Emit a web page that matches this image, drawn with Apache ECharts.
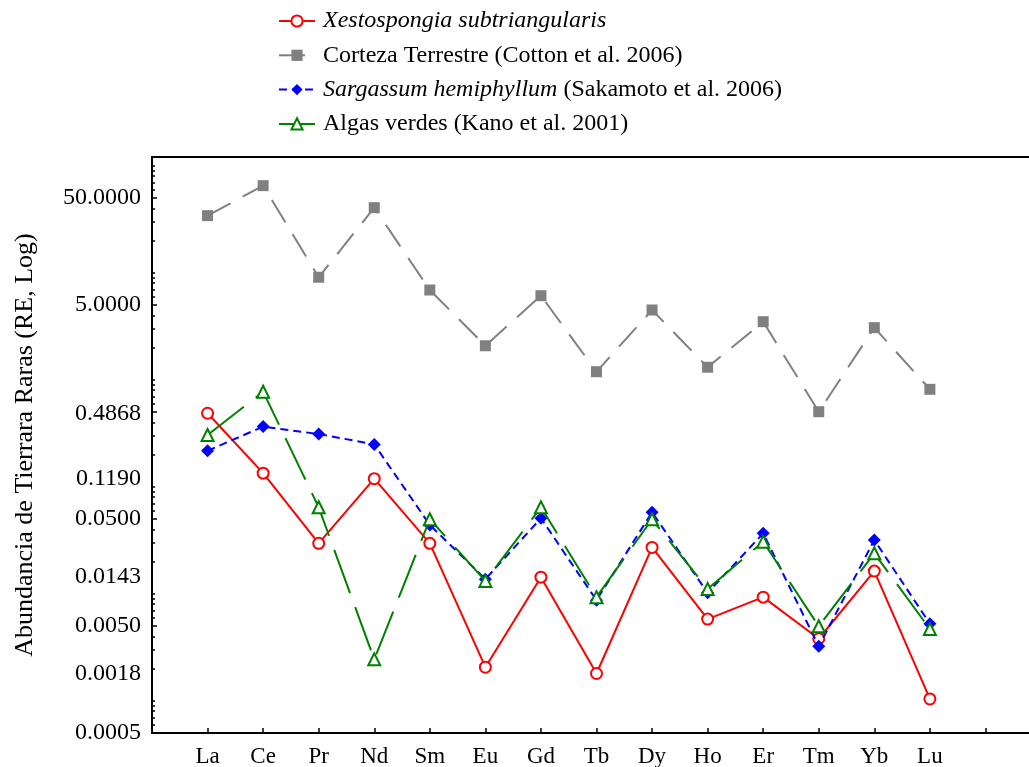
<!DOCTYPE html>
<html>
<head>
<meta charset="utf-8">
<title>Abundancia de Tierras Raras</title>
<script src="https://cdn.jsdelivr.net/npm/echarts@6/dist/echarts.min.js"></script>
<style>
  html, body { margin: 0; padding: 0; background: #ffffff; }
  #chart { width: 1029px; height: 767px; }
</style>
</head>
<body>
<div id="chart"></div>
<script>
// Rare earth elements along the x axis
const categories = ['La', 'Ce', 'Pr', 'Nd', 'Sm', 'Eu', 'Gd', 'Tb', 'Dy', 'Ho', 'Er', 'Tm', 'Yb', 'Lu'];

// Abundance values per element
const xestospongia = [0.4868, 0.134, 0.0296, 0.119, 0.0296, 0.00206, 0.0143, 0.0018, 0.0271, 0.0058, 0.0093, 0.0038, 0.0163, 0.00104];
const corteza = [34.2, 65.2, 9.08, 40.6, 6.90, 2.08, 6.11, 1.19, 4.49, 1.31, 3.49, 0.503, 3.07, 0.815];
const sargassum = [0.217, 0.365, 0.311, 0.249, 0.044, 0.0137, 0.0508, 0.0087, 0.0578, 0.0102, 0.0367, 0.00323, 0.0318, 0.00525];
const algas = [0.305, 0.774, 0.0643, 0.00244, 0.0497, 0.0132, 0.0643, 0.0093, 0.0497, 0.0111, 0.0307, 0.00497, 0.0239, 0.00469];

// Labelled values on the logarithmic y axis
const yTickLabels = ['0.0005', '0.0018', '0.0050', '0.0143', '0.0500', '0.1190', '0.4868', '5.0000', '50.0000'];

const Y_MIN = 0.0005;
const Y_MAX = 120.8;

// The y axis works in log10 units
const lg = v => Math.log10(v);
const toPoints = arr => arr.map((v, i) => [i + 1, lg(v)]);

const labelLogs = yTickLabels.map(s => lg(parseFloat(s)));

// Log ticks: long ones at 5·10^e, short ones at the other k·10^e
const majorLogs = [];
const minorLogs = [];
for (let e = -4; e <= 2; e++) {
  for (let k = 1; k <= 9; k++) {
    const v = k * Math.pow(10, e);
    if (v < Y_MIN * 0.999 || v > Y_MAX) continue;
    (k === 5 ? majorLogs : minorLogs).push(lg(v));
  }
}

const FONT = 'Liberation Serif';

const chart = echarts.init(document.getElementById('chart'), null, { renderer: 'canvas' });

const option = {
  backgroundColor: '#ffffff',
  animation: false,
  grid: {
    left: 152,
    top: 157,
    bottom: 34,
    width: 889,
    outerBoundsMode: 'none',
    show: true,
    borderColor: '#000000',
    borderWidth: 2,
    backgroundColor: 'transparent'
  },
  legend: {
    orient: 'vertical',
    left: 278,
    top: 9,
    padding: 0,
    itemWidth: 36,
    itemHeight: 14,
    itemGap: 10.3,
    data: ['xesto', 'corteza', 'sargassum', 'algas'],
    formatter: function (name) {
      switch (name) {
        case 'xesto': return '{i|Xestospongia subtriangularis}';
        case 'corteza': return '{n|Corteza Terrestre (Cotton et al. 2006)}';
        case 'sargassum': return '{i|Sargassum hemiphyllum} {n|(Sakamoto et al. 2006)}';
        default: return '{n|Algas verdes (Kano et al. 2001)}';
      }
    },
    textStyle: {
      fontFamily: FONT,
      fontSize: 24,
      color: '#000000',
      padding: [0, 0, 0, 3],
      rich: {
        i: { fontFamily: FONT, fontSize: 24, fontStyle: 'italic', color: '#000000' },
        n: { fontFamily: FONT, fontSize: 24, color: '#000000' }
      }
    }
  },
  xAxis: {
    type: 'value',
    min: 0,
    max: 16,
    interval: 1,
    axisLine: { show: true, onZero: false, lineStyle: { color: '#000000', width: 2 } },
    axisTick: { show: true, inside: true, length: 5, lineStyle: { color: '#000000', width: 1.5 } },
    splitLine: { show: false },
    axisLabel: {
      margin: 12,
      fontFamily: FONT,
      fontSize: 23,
      color: '#000000',
      showMinLabel: true,
      showMaxLabel: true,
      formatter: function (v) {
        const i = Math.round(v) - 1;
        return (i >= 0 && i < categories.length) ? categories[i] : '';
      }
    }
  },
  yAxis: [
    {
      type: 'value',
      position: 'left',
      min: lg(Y_MIN),
      max: lg(Y_MAX),
      name: 'Abundancia de Tierrara Raras (RE, Log)',
      nameLocation: 'middle',
      nameGap: 114,
      nameTextStyle: { fontFamily: FONT, fontSize: 26, color: '#000000' },
      axisLine: { show: true, onZero: false, lineStyle: { color: '#000000', width: 2 } },
      axisTick: {
        show: true,
        inside: true,
        length: 5,
        customValues: majorLogs,
        lineStyle: { color: '#000000', width: 1.5 }
      },
      splitLine: { show: false },
      axisLabel: {
        margin: 11,
        fontFamily: FONT,
        fontSize: 24,
        color: '#000000',
        customValues: labelLogs,
        formatter: function (v) {
          for (let i = 0; i < labelLogs.length; i++) {
            if (Math.abs(labelLogs[i] - v) < 1e-6) return yTickLabels[i];
          }
          return '';
        }
      }
    },
    {
      type: 'value',
      position: 'left',
      offset: 0,
      min: lg(Y_MIN),
      max: lg(Y_MAX),
      axisLine: { show: false, onZero: false },
      axisLabel: { show: false },
      splitLine: { show: false },
      axisTick: {
        show: true,
        inside: true,
        length: 3,
        customValues: minorLogs,
        lineStyle: { color: '#000000', width: 1.5 }
      }
    }
  ],
  series: [
    {
      name: 'xesto',
      type: 'line',
      data: toPoints(xestospongia),
      symbol: 'emptyCircle',
      symbolSize: 11,
      itemStyle: { color: '#ff0000', borderWidth: 1.2 },
      lineStyle: { color: '#ff0000', width: 2, type: 'solid' },
      z: 2
    },
    {
      name: 'corteza',
      type: 'line',
      data: toPoints(corteza),
      symbol: 'rect',
      symbolSize: 11,
      itemStyle: { color: '#808080' },
      lineStyle: { color: '#808080', width: 2, type: [26, 14] },
      z: 3
    },
    {
      name: 'sargassum',
      type: 'line',
      data: toPoints(sargassum),
      symbol: 'diamond',
      symbolSize: 13,
      itemStyle: { color: '#0000ff' },
      lineStyle: { color: '#0000ff', width: 2, type: [8, 5] },
      z: 4
    },
    {
      name: 'algas',
      type: 'line',
      data: toPoints(algas),
      symbol: 'emptyTriangle',
      symbolSize: 12,
      itemStyle: { color: '#008000', borderWidth: 1.2 },
      lineStyle: { color: '#008000', width: 2, type: [46, 15] },
      z: 5
    }
  ]
};

chart.setOption(option);
</script>
</body>
</html>
